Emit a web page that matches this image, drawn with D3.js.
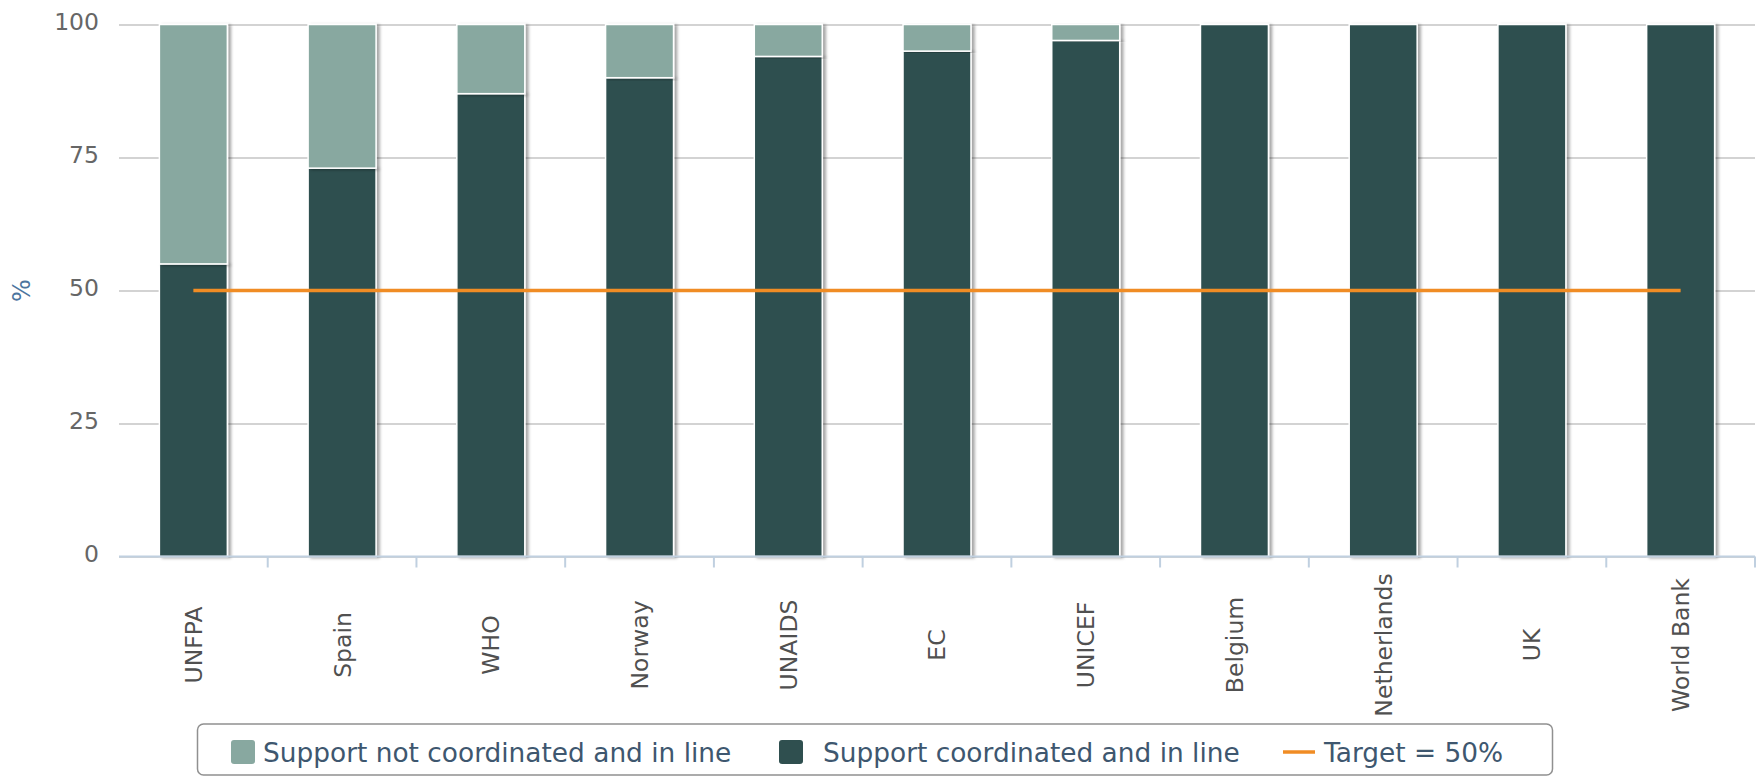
<!DOCTYPE html>
<html>
<head>
<meta charset="utf-8">
<script src="https://cdn.jsdelivr.net/npm/d3@7"></script>
<style>
  body { margin: 0; background: #fff; }
  svg { display: block; font-family: "Lucida Grande", "DejaVu Sans", sans-serif; }
</style>
</head>
<body>
<div id="chart"></div>
<script>
// data
let categories = ['UNFPA', 'Spain', 'WHO', 'Norway', 'UNAIDS', 'EC', 'UNICEF', 'Belgium', 'Netherlands', 'UK', 'World Bank'];
let coordinated = [55, 73, 87, 90, 94, 95, 97, 100, 100, 100, 100];
let notCoordinated = [45, 27, 13, 10, 6, 5, 3, 0, 0, 0, 0];
let target = 50;
let yTicks = [0, 25, 50, 75, 100];
let seriesNames = ['Support not coordinated and in line', 'Support coordinated and in line', 'Target = 50%'];

let colors = { light: '#88a8a0', dark: '#2f4f4f', target: '#f08c24' };

let width = 1760, height = 778;
let plot = { left: 119, right: 1755, top: 24.5, bottom: 556.5 };

let svg = d3.select('#chart').append('svg')
  .attr('width', width)
  .attr('height', height);

let defs = svg.append('defs');
let f = defs.append('filter').attr('id', 'shadow')
  .attr('x', '-20%').attr('y', '-5%').attr('width', '150%').attr('height', '110%');
f.append('feDropShadow')
  .attr('dx', 3).attr('dy', 1).attr('stdDeviation', 1.4)
  .attr('flood-color', '#000').attr('flood-opacity', 0.35);

let x = d3.scaleBand()
  .domain(categories)
  .range([plot.left, plot.right])
  .paddingInner(0.543)
  .paddingOuter(0.2715);

// full category slots, used for the tick marks
let xSlot = d3.scaleBand()
  .domain(categories)
  .range([plot.left, plot.right]);

let y = d3.scaleLinear()
  .domain([0, 100])
  .range([plot.bottom, plot.top]);

// grid + y labels
let yAxis = svg.append('g')
  .attr('transform', 'translate(' + plot.left + ',0)')
  .call(d3.axisLeft(y).tickValues(yTicks).tickSize(-(plot.right - plot.left)).tickPadding(20));
yAxis.select('.domain').remove();
yAxis.selectAll('.tick line')
  .attr('stroke', '#c4c4c4')
  .attr('stroke-width', 1.5);
yAxis.selectAll('.tick text')
  .attr('fill', '#666')
  .attr('font-size', 23.5)
  .attr('font-family', '"Lucida Grande", "DejaVu Sans", sans-serif')
  .attr('dy', '0.2em');

// y title
svg.append('text')
  .attr('transform', 'translate(22,' + y(50) + ') rotate(-90)')
  .attr('text-anchor', 'middle')
  .attr('dy', '0.35em')
  .attr('fill', '#4d759e')
  .attr('font-size', 24)
  .text('%');

// stacked bars
let rows = categories.map((c, i) => ({ cat: c, co: coordinated[i], nc: notCoordinated[i] }));

let bars = svg.append('g');
let bar = bars.selectAll('.bar-group')
  .data(rows)
  .enter()
  .append('g')
  .attr('class', 'bar-group');

bar.append('rect')
  .attr('x', d => x(d.cat))
  .attr('y', d => y(d.co))
  .attr('width', x.bandwidth())
  .attr('height', d => y(0) - y(d.co))
  .attr('fill', colors.dark)
  .attr('stroke', '#fff')
  .attr('stroke-width', 1.5)
  .attr('filter', 'url(#shadow)');

bar.filter(d => d.nc > 0).append('rect')
  .attr('x', d => x(d.cat))
  .attr('y', d => y(d.co + d.nc))
  .attr('width', x.bandwidth())
  .attr('height', d => y(d.co) - y(d.co + d.nc))
  .attr('fill', colors.light)
  .attr('stroke', '#fff')
  .attr('stroke-width', 1.5)
  .attr('filter', 'url(#shadow)');

// target line
let line = d3.line()
  .x(d => x(d) + x.bandwidth() / 2)
  .y(() => y(target));

svg.append('path')
  .datum(categories)
  .attr('d', line)
  .attr('fill', 'none')
  .attr('stroke', colors.target)
  .attr('stroke-width', 3.5);

// x axis
let xAxis = svg.append('g');
xAxis.append('line')
  .attr('x1', plot.left).attr('x2', plot.right)
  .attr('y1', y(0)).attr('y2', y(0))
  .attr('stroke', '#c0d0e0')
  .attr('stroke-width', 2);

xAxis.selectAll('.xtick')
  .data(categories)
  .enter()
  .append('line')
  .attr('x1', d => xSlot(d) + xSlot.bandwidth())
  .attr('x2', d => xSlot(d) + xSlot.bandwidth())
  .attr('y1', y(0))
  .attr('y2', y(0) + 11)
  .attr('stroke', '#c0d0e0')
  .attr('stroke-width', 2);

xAxis.selectAll('.xlabel')
  .data(categories)
  .enter()
  .append('text')
  .attr('transform', d => 'translate(' + (x(d) + x.bandwidth() / 2) + ',645) rotate(-90)')
  .attr('text-anchor', 'middle')
  .attr('dy', '0.36em')
  .attr('fill', '#505050')
  .attr('font-size', 23.5)
  .text(d => d);

// legend
let legend = svg.append('g');
legend.append('rect')
  .attr('x', 197.5).attr('y', 724)
  .attr('width', 1355).attr('height', 51)
  .attr('rx', 6)
  .attr('fill', '#fff')
  .attr('stroke', '#909090')
  .attr('stroke-width', 1.5);

let legendY = 752;
let items = [
  { name: seriesNames[0], sx: 231, tx: 263, type: 'rect', color: colors.light },
  { name: seriesNames[1], sx: 779, tx: 823, type: 'rect', color: colors.dark },
  { name: seriesNames[2], sx: 1283, tx: 1324, type: 'line', color: colors.target }
];

items.forEach(it => {
  if (it.type === 'rect') {
    legend.append('rect')
      .attr('x', it.sx).attr('y', legendY - 12)
      .attr('width', 24).attr('height', 24)
      .attr('rx', 3)
      .attr('fill', it.color);
  } else {
    legend.append('line')
      .attr('x1', it.sx).attr('x2', it.sx + 32)
      .attr('y1', legendY).attr('y2', legendY)
      .attr('stroke', it.color)
      .attr('stroke-width', 3.5);
  }
  legend.append('text')
    .attr('x', it.tx)
    .attr('y', legendY)
    .attr('dy', '0.36em')
    .attr('fill', '#3e576f')
    .attr('font-size', 26.4)
    .text(it.name);
});
</script>
</body>
</html>
